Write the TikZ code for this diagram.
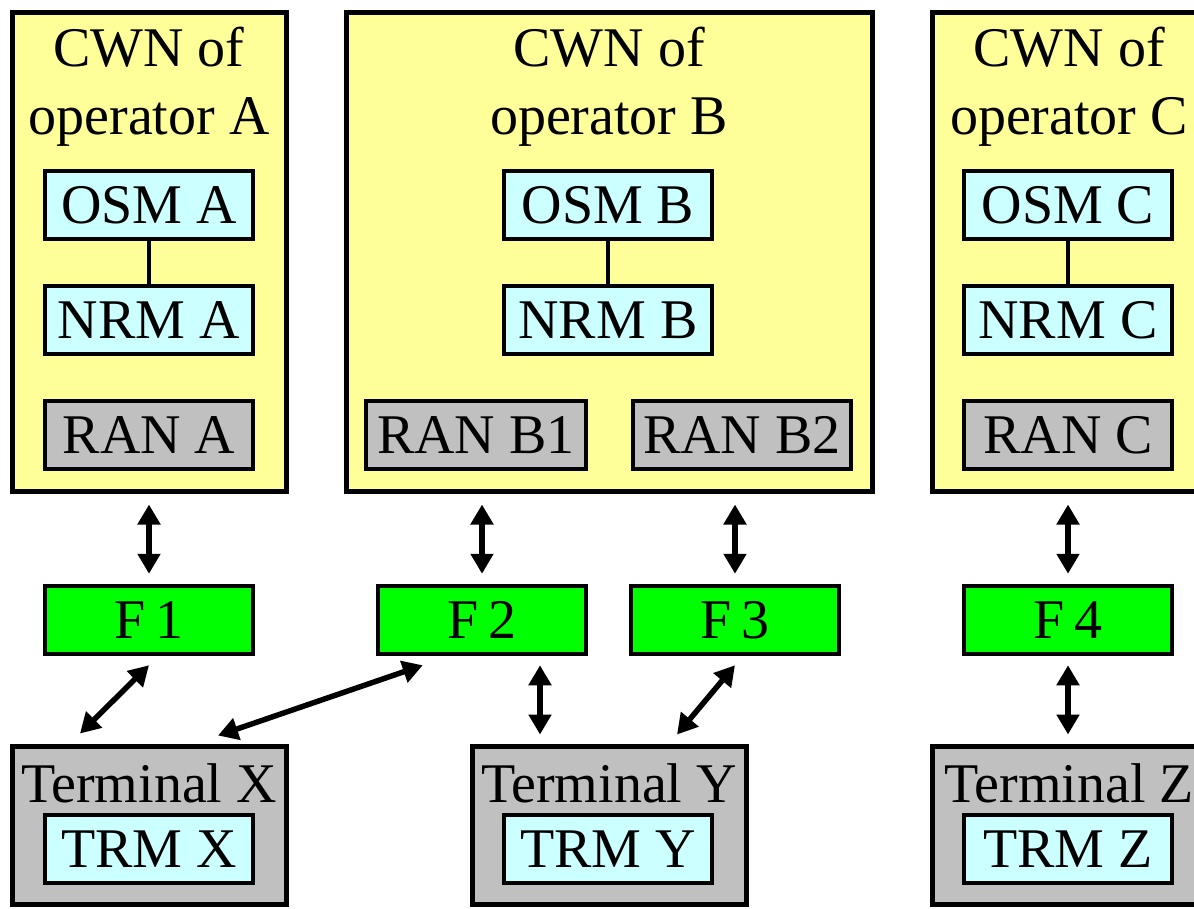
\documentclass[tikz,border=0pt]{standalone}
\usepackage{fontspec}
\setmainfont{Liberation Serif}
\usetikzlibrary{arrows.meta,calc}
\definecolor{cwnyellow}{RGB}{255,255,153}
\definecolor{lcyan}{RGB}{204,255,255}
\definecolor{lgray}{RGB}{192,192,192}
\definecolor{fgreen}{RGB}{0,255,0}
\begin{document}
\begin{tikzpicture}[x=1pt,y=-1pt,
  every node/.style={font=\fontsize{56}{68}\selectfont},
  bigbox/.style={draw,line width=5pt,fill=cwnyellow,minimum width=274pt,minimum height=479pt,inner sep=0pt},
  titletext/.style={align=center,inner sep=0pt},
  sbox/.style={draw,line width=4.5pt,minimum width=208pt,minimum height=68pt,inner sep=0pt,text height=37pt,text depth=0pt},
  mgmt/.style={sbox,fill=lcyan},
  ran/.style={sbox,fill=lgray},
  fbox/.style={sbox,fill=fgreen},
  term/.style={draw,line width=5pt,fill=lgray,minimum width=274pt,minimum height=158pt,inner sep=0pt},
  link/.style={line width=4.5pt},
  arr/.style={line width=5.5pt,{Triangle[length=20pt,width=22pt]}-{Triangle[length=20pt,width=22pt]}}
]
\useasboundingbox (0,0) rectangle (1194,908);
\clip (0,0) rectangle (1194,908);
\fill[white] (0,0) rectangle (1194,908);

% operator networks
\node[bigbox] (CA) at (149,251.5) {};
\node[bigbox,minimum width=526pt] (CB) at (609,251.5) {};
\node[bigbox] (CC) at (1069,251.5) {};
\node[titletext] (TA) at (149,87) {CWN of\\operator A};
\node[titletext] (TB) at (609,87) {CWN of\\operator B};
\node[titletext] (TC) at (1069,87) {CWN of\\operator C};

\node[mgmt] (OA) at (149,205) {OSM A};
\node[mgmt] (NA) at (149,320) {NRM A};
\node[ran]  (RA) at (149,435) {RAN A};
\node[mgmt] (OB) at (608,205) {OSM B};
\node[mgmt] (NB) at (608,320) {NRM B};
\node[ran,minimum width=220pt] (RB1) at (476,435) {RAN B1};
\node[ran,minimum width=218pt] (RB2) at (742,435) {RAN B2};
\node[mgmt] (OC) at (1068,205) {OSM C};
\node[mgmt] (NC) at (1068,320) {NRM C};
\node[ran]  (RC) at (1068,435) {RAN C};

\draw[link] (OA) -- (NA);
\draw[link] (OB) -- (NB);
\draw[link] (OC) -- (NC);

% F boxes
\node[fbox] (F1) at (149,620) {F\,1};
\node[fbox] (F2) at (482,620) {F\,2};
\node[fbox] (F3) at (735,620) {F\,3};
\node[fbox] (F4) at (1068,620) {F\,4};

% terminals
\node[term] (TX) at (149,825) {};
\node[term] (TY) at (609,825) {};
\node[term] (TZ) at (1069,825) {};
\node[anchor=base,inner sep=0pt] (TXl) at (149,802) {Terminal X};
\node[anchor=base,inner sep=0pt] (TYl) at (609,802) {Terminal Y};
\node[anchor=base,inner sep=0pt] (TZl) at (1069,802) {Terminal Z};
\node[mgmt] (RX) at (149,849) {TRM X};
\node[mgmt] (RY) at (608,849) {TRM Y};
\node[mgmt] (RZ) at (1068,849) {TRM Z};

% arrows
\draw[arr] ($(CA.south -| F1.north)+(0,11)$) -- ($(F1.north)+(0,-10)$);
\draw[arr] ($(CB.south -| F2.north)+(0,11)$) -- ($(F2.north)+(0,-10)$);
\draw[arr] ($(CB.south -| F3.north)+(0,11)$) -- ($(F3.north)+(0,-10)$);
\draw[arr] ($(CC.south -| F4.north)+(0,11)$) -- ($(F4.north)+(0,-10)$);

\draw[arr] ($(F1.south)+(0,9)$) -- ($(TX.north)+(-69,-10)$);
\draw[arr] ($(F2.south west)+(47,9)$) -- ($(TX.north)+(69,-8)$);
\draw[arr] ($(F2.south)+(58,9)$) -- ($(TY.north)+(-69,-9)$);
\draw[arr] ($(F3.south)+(0,9)$) -- ($(TY.north)+(68,-9)$);
\draw[arr] ($(F4.south)+(0,9)$) -- ($(TZ.north -| F4.south)+(0,-9)$);
\end{tikzpicture}
\end{document}
